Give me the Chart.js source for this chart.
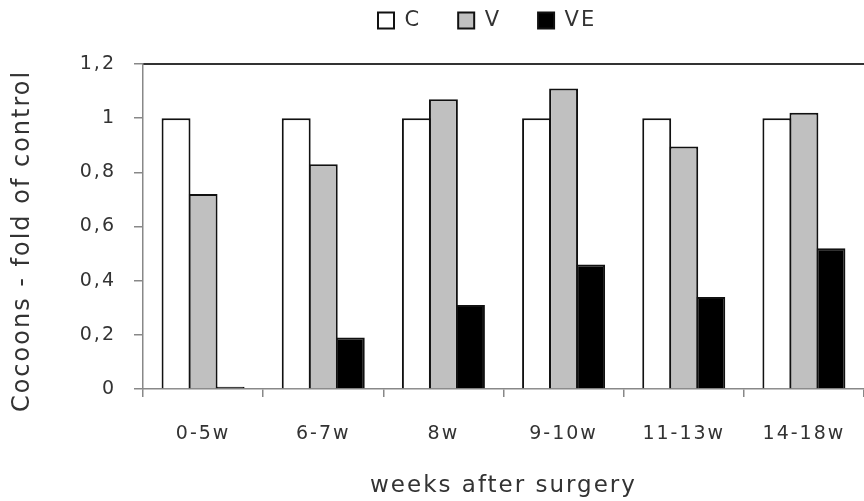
<!DOCTYPE html>
<html>
<head>
<meta charset="utf-8">
<script src="https://cdn.jsdelivr.net/npm/chart.js@4/dist/chart.umd.min.js"></script>
<style>
  html, body { margin: 0; padding: 0; background: #fff; }
  canvas { display: block; }
</style>
</head>
<body>
<canvas id="cocoons" width="864" height="501"></canvas>
<script>
// values (fold of control)
const weeks = ["0-5w", "6-7w", "8w", "9-10w", "11-13w", "14-18w"];
const cVals = [1, 1, 1, 1, 1, 1];
const vVals = [0.72, 0.83, 1.07, 1.11, 0.895, 1.02];
const veVals = [0.008, 0.19, 0.31, 0.46, 0.34, 0.52];
const seriesNames = ["C", "V", "VE"];

Chart.defaults.font.family = "'DejaVu Sans', Verdana, sans-serif";
Chart.defaults.color = "#333";

// the original text is a bit wider spaced than DejaVu
const spacing = {
  id: "spacing",
  beforeLayout(c) { c.ctx.letterSpacing = "2px"; },
  beforeDraw(c) { c.ctx.letterSpacing = "2px"; },
  afterLayout(c) {
    // legend sits a little right of centre in the original
    const lg = c.legend;
    lg.left = 367;
    lg.top = -1;
    lg.bottom = 62;
  }
};

new Chart(document.getElementById("cocoons"), {
  type: "bar",
  data: {
    labels: weeks,
    datasets: [
      { label: seriesNames[0], data: cVals, backgroundColor: "#ffffff" },
      { label: seriesNames[1], data: vVals, backgroundColor: "#c0c0c0" },
      { label: seriesNames[2], data: veVals, backgroundColor: "#000000" }
    ]
  },
  options: {
    responsive: false,
    animation: false,
    layout: { padding: 0 },
    datasets: {
      bar: {
        borderColor: "#111",
        borderWidth: 2,
        barPercentage: 1.07,
        categoryPercentage: 0.675
      }
    },
    plugins: {
      tooltip: { enabled: false },
      legend: {
        position: "top",
        align: "start",
        labels: {
          boxWidth: 16,
          boxHeight: 16,
          padding: 11,
          color: "#333",
          font: { size: 21 },
          generateLabels(chart) {
            const items = Chart.defaults.plugins.legend.labels.generateLabels(chart);
            items.forEach(it => { it.text = it.text + "   "; });
            return items;
          }
        }
      }
    },
    scales: {
      x: {
        position: "bottom",
        grid: { drawOnChartArea: false, drawTicks: true, tickLength: 8, color: "#888", lineWidth: 1.5 },
        border: { color: "#888", width: 1.5 },
        ticks: { font: { size: 19 }, color: "#333", padding: 26, maxRotation: 0 },
        title: {
          display: true,
          text: "weeks after surgery",
          font: { size: 23 },
          color: "#333",
          padding: { top: 0, bottom: 1 }
        },
        afterFit(s) {
          s.height = 112;
          s.paddingLeft = 0;
          s.paddingRight = 0;
        }
      },
      x2: {
        position: "top",
        grid: { display: false },
        ticks: { display: false },
        border: { display: true, color: "#333", width: 2 },
        afterFit(s) {
          s.height = 64 - s.chart.legend.height;
          s.paddingLeft = 0;
          s.paddingRight = 0;
        }
      },
      y: {
        min: 0,
        max: 1.2,
        ticks: {
          stepSize: 0.2,
          font: { size: 19 },
          color: "#333",
          padding: 18,
          callback: v => String(Math.round(v * 10) / 10).replace(".", ",")
        },
        grid: { drawOnChartArea: false, drawTicks: true, tickLength: 9, color: "#888", lineWidth: 1.5 },
        border: { color: "#888", width: 1.5 },
        title: {
          display: true,
          text: "Cocoons - fold of control   ",
          font: { size: 24 },
          color: "#333",
          padding: { top: 8, bottom: 0 }
        },
        afterFit(s) { s.width = 143; }
      }
    }
  },
  plugins: [spacing]
});
</script>
</body>
</html>
